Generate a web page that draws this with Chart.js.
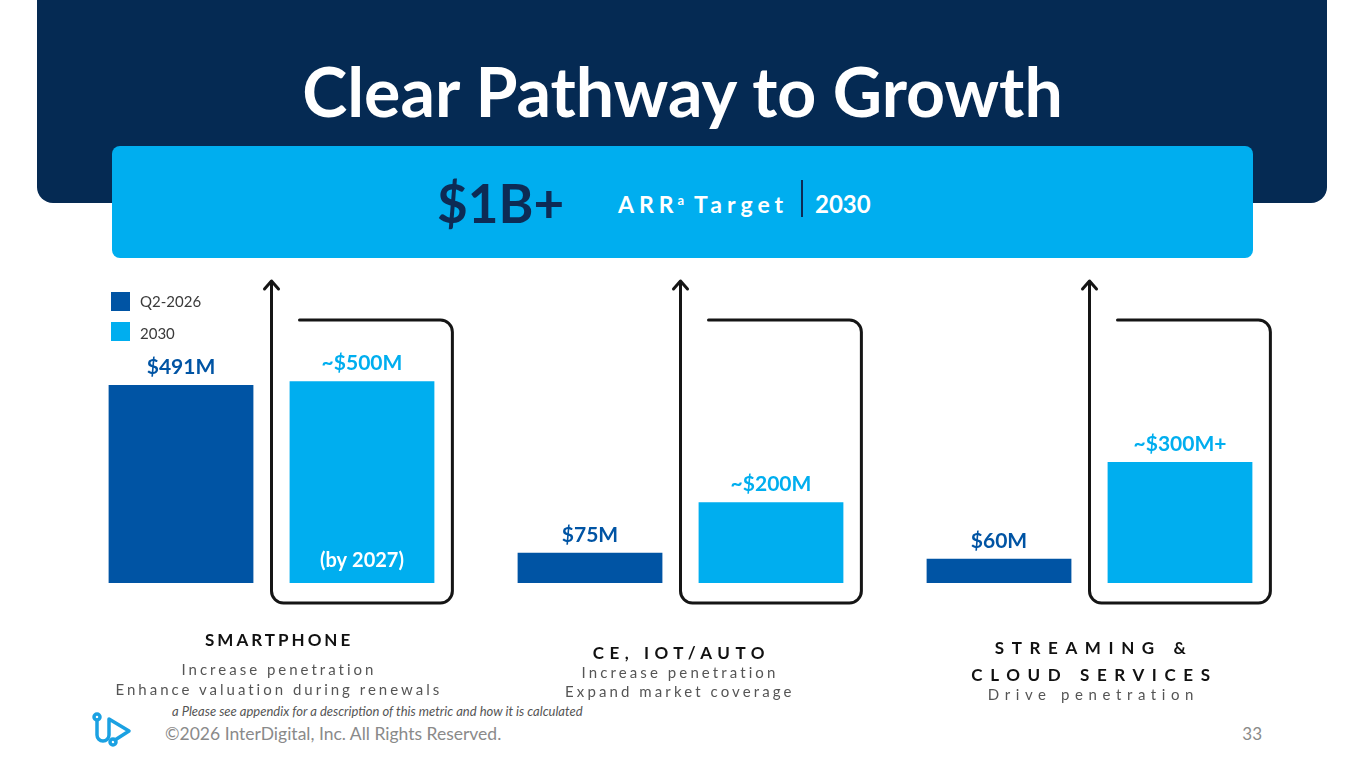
<!DOCTYPE html>
<html>
<head>
<meta charset="utf-8">
<title>Clear Pathway to Growth</title>
<script src="https://cdn.jsdelivr.net/npm/chart.js@4.4.1/dist/chart.umd.min.js"></script>
<style>
    body {
        margin: 0;
        width: 1365px;
        height: 768px;
        position: relative;
        overflow: hidden;
        background: #fff;
        font-family: Lato, 'Open Sans', sans-serif;
    }
    .abs { position: absolute; white-space: nowrap; line-height: 1; }
    .header {
        position: absolute; left: 37px; top: 0; width: 1290px; height: 203px;
        background: #052a53; border-radius: 0 0 16px 16px;
    }
    .title {
        left: 0; width: 1365px; top: 57px; text-align: center;
        color: #fff; font-weight: 700; font-size: 68px;
    }
    .banner {
        position: absolute; left: 112px; top: 146px; width: 1141px; height: 112px;
        background: #00aeef; border-radius: 8px;
    }
    .big { left: 437px; top: 176px; font-size: 53px; font-weight: 700; color: #0d2b55; }
    .arr { left: 618px; top: 193px; font-size: 23px; font-weight: 700; color: #fff; letter-spacing: 5px; }
    .arr sup { font-size: 13px; letter-spacing: 0; vertical-align: 8px; margin-left: -1px; }
    .sep { position: absolute; left: 801px; top: 180px; width: 2px; height: 37px; background: #0d2b55; }
    .year { left: 815px; top: 192px; font-size: 24px; font-weight: 700; color: #fff; }
    .note { left: 172px; top: 705px; font-size: 13px; font-style: italic; font-weight: 400; color: #555; }
    .copy { left: 165px; top: 725px; font-size: 17.5px; color: #8a8a8a; }
    .page { right: 103px; top: 725px; font-size: 17px; color: #8a8a8a; }
    .cat-title { font-weight: 700; color: #111; }
    .cat-sub { color: #555; }
    #chart { position: absolute; left: 0; top: 0; }
</style>
</head>
<body>
<div class="header"></div>
<div class="abs title">Clear Pathway to Growth</div>
<div class="banner"></div>
<div class="abs big">$1B+</div>
<div class="abs arr">ARR<sup>a</sup> Target</div>
<div class="sep"></div>
<div class="abs year">2030</div>
<div class="abs note">a Please see appendix for a description of this metric and how it is calculated</div>
<div class="abs copy">©2026 InterDigital, Inc. All Rights Reserved.</div>
<div class="abs page">33</div>
<svg style="position:absolute;left:90px;top:710px" width="48" height="40" viewBox="0 0 48 40">
    <g fill="none" stroke="#1ba1e2" stroke-width="3.5" stroke-linecap="round" stroke-linejoin="round">
        <circle cx="7" cy="7" r="3"/>
        <path d="M7 10 V25 a6 6 0 0 0 12 0 V9 L39 21 L25 30"/>
        <circle cx="23" cy="32" r="3"/>
    </g>
</svg>
<canvas id="chart" width="1365" height="768"></canvas>
<div id="labels"></div>

<script>
// Segments and their descriptions
const categories = [['SMARTPHONE'], ['CE, IOT/AUTO'], ['STREAMING &', 'CLOUD SERVICES']];
const subtitles = [
    ['Increase penetration', 'Enhance valuation during renewals'],
    ['Increase penetration', 'Expand market coverage'],
    ['Drive penetration']
];

// ARR ($M) per segment
const seriesNames = ['Q2-2026', '2030'];
const q2Values = [491, 75, 60];
const targetValues = [500, 200, 300];
const q2Labels = ['$491M', '$75M', '$60M'];
const targetLabels = ['~$500M', '~$200M', '~$300M+'];
const targetNotes = ['(by 2027)', '', ''];

const colors = ['#0054a4', '#00aeef'];

// text baselines, letter spacing and x nudge under each group
const labelLayout = [
    { baselines: [646, 675, 695], titleSpacing: 3, subSpacing: 3, dx: 6 },
    { baselines: [659, 678, 697], titleSpacing: 5.5, subSpacing: 3.1, dx: -2 },
    { baselines: [654, 681, 700], titleSpacing: 7.6, subSpacing: 5.6, dx: 1 }
];

// Draws value labels, legend and the growth brackets
const slidePlugin = {
    id: 'slideMarks',
    afterDatasetsDraw(chart) {
        const ctx = chart.ctx;
        const area = chart.chartArea;
        const q2Meta = chart.getDatasetMeta(0);
        const tMeta = chart.getDatasetMeta(1);
        ctx.save();

        // value labels on top of bars
        ctx.font = 'bold 21px Lato, sans-serif';
        ctx.textAlign = 'center';
        ctx.textBaseline = 'alphabetic';
        [q2Meta, tMeta].forEach((meta, d) => {
            const texts = d === 0 ? q2Labels : targetLabels;
            meta.data.forEach((bar, i) => {
                ctx.fillStyle = colors[d];
                ctx.fillText(texts[i], bar.x, bar.y - 11);
            });
        });

        // note inside the bar
        ctx.fillStyle = '#fff';
        ctx.font = 'bold 20px Lato, sans-serif';
        tMeta.data.forEach((bar, i) => {
            if (targetNotes[i]) ctx.fillText(targetNotes[i], bar.x, bar.base - 16);
        });

        // brackets with arrows
        ctx.strokeStyle = '#151515';
        ctx.lineWidth = 3;
        ctx.lineCap = 'round';
        ctx.lineJoin = 'round';
        const r = 12;
        const top = area.top - 60;
        const shelf = area.top - 21;
        const bottom = area.bottom + 20;
        tMeta.data.forEach((bar, i) => {
            const q2 = q2Meta.data[i];
            const ax = (q2.x + q2.width / 2 + bar.x - bar.width / 2) / 2;
            const rx = bar.x + bar.width / 2 + 18;
            ctx.beginPath();
            ctx.moveTo(ax, top + 1);
            ctx.lineTo(ax, bottom - r);
            ctx.arcTo(ax, bottom, ax + r, bottom, r);
            ctx.lineTo(rx - r, bottom);
            ctx.arcTo(rx, bottom, rx, bottom - r, r);
            ctx.lineTo(rx, shelf + r);
            ctx.arcTo(rx, shelf, rx - r, shelf, r);
            ctx.lineTo(ax + 28, shelf);
            ctx.stroke();

            ctx.beginPath();
            ctx.moveTo(ax - 7, top + 8);
            ctx.lineTo(ax, top);
            ctx.lineTo(ax + 7, top + 8);
            ctx.stroke();
        });

        // legend
        ctx.font = '15px Lato, sans-serif';
        ctx.textAlign = 'left';
        ctx.textBaseline = 'middle';
        seriesNames.forEach((name, i) => {
            ctx.fillStyle = colors[i];
            ctx.fillRect(111, 292 + i * 30, 19, 19);
            ctx.fillStyle = '#3a3a3a';
            ctx.fillText(name, 140, 302 + i * 32);
        });
        ctx.restore();
    }
};

const chart = new Chart(document.getElementById('chart'), {
    type: 'bar',
    data: {
        labels: categories.map(c => c.join(' ')),
        datasets: [{
            label: seriesNames[0],
            data: q2Values,
            backgroundColor: colors[0],
            categoryPercentage: 0.885,
            barPercentage: 0.8
        }, {
            label: seriesNames[1],
            data: targetValues,
            backgroundColor: colors[1],
            categoryPercentage: 0.885,
            barPercentage: 0.8
        }]
    },
    options: {
        responsive: false,
        animation: false,
        devicePixelRatio: 1,
        layout: {
            padding: { left: 67, right: 71, top: 341, bottom: 185 }
        },
        plugins: {
            legend: { display: false },
            tooltip: { enabled: false }
        },
        scales: {
            x: { display: false, grid: { display: false } },
            y: { display: false, min: 0, max: 600, grid: { display: false } }
        }
    },
    plugins: [slidePlugin]
});

// Segment names and descriptions under each group
const holder = document.getElementById('labels');
categories.forEach((titleLines, i) => {
    const cx = chart.scales.x.getPixelForValue(i);
    const lay = labelLayout[i];
    const lines = titleLines.map(t => ({ text: t, cls: 'cat-title', fs: 17, sp: lay.titleSpacing }))
        .concat(subtitles[i].map(t => ({ text: t, cls: 'cat-sub', fs: 15, sp: lay.subSpacing })));
    lines.forEach((line, k) => {
        const el = document.createElement('div');
        el.className = 'abs ' + line.cls;
        el.textContent = line.text;
        el.style.fontSize = line.fs + 'px';
        el.style.letterSpacing = line.sp + 'px';
        el.style.top = (lay.baselines[k] - 0.887 * line.fs) + 'px';
        holder.appendChild(el);
        el.style.left = (cx + lay.dx - el.offsetWidth / 2 + line.sp / 2) + 'px';
    });
});
</script>
</body>
</html>
